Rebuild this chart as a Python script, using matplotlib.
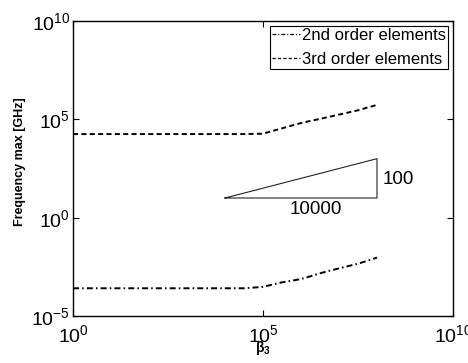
import matplotlib
matplotlib.use("Agg")
import matplotlib.pyplot as plt

plt.rcParams['font.family'] = ['Liberation Sans', 'DejaVu Sans']
plt.rcParams['mathtext.fontset'] = 'custom'
plt.rcParams['mathtext.rm'] = 'Liberation Sans'

# beta_3 sample points
beta3 = [1, 10, 100, 1e3, 1e4, 3.16e4, 1e5, 1.78e5, 3.16e5, 5.62e5,
         1e6, 1.78e6, 3.16e6, 5.62e6, 1e7, 1.78e7, 3.16e7, 5.62e7, 1e8]

# maximum frequency [GHz]
freq_2nd = [2.57e-4, 2.57e-4, 2.57e-4, 2.57e-4, 2.57e-4, 2.57e-4, 3.02e-4,
            3.98e-4, 5.13e-4, 6.17e-4, 7.59e-4, 1.05e-3, 1.48e-3, 2.00e-3,
            2.63e-3, 3.47e-3, 4.57e-3, 6.46e-3, 9.33e-3]
freq_3rd = [1.78e4, 1.78e4, 1.78e4, 1.78e4, 1.78e4, 1.78e4, 1.86e4,
            2.57e4, 3.47e4, 4.79e4, 6.46e4, 8.32e4, 1.05e5, 1.35e5,
            1.74e5, 2.24e5, 2.88e5, 3.98e5, 5.37e5]

series_labels = ['2nd order elements', '3rd order elements']

# slope triangle: run of 10000, rise of 100
tri_x = [1e4, 1e8, 1e8, 1e4]
tri_y = [10, 10, 1000, 10]
tri_run_label = '10000'
tri_rise_label = '100'

xticks = [1, 1e5, 1e10]
yticks = [1e-5, 1, 1e5, 1e10]

fig = plt.figure(figsize=(4.68, 3.63), dpi=100)
ax = fig.add_axes([73 / 468, (363 - 316) / 363, 380 / 468, 295 / 363])

lw = 1.4
l2, = ax.plot(beta3, freq_2nd, color='black', lw=lw, label=series_labels[0])
l2.set_dashes([3.1, 1.6, 0.8, 1.6])
l3, = ax.plot(beta3, freq_3rd, color='black', lw=lw, label=series_labels[1])
l3.set_dashes([2.6, 1.7])

ax.plot(tri_x, tri_y, color='#222222', lw=0.8)
ax.text(10**8.14, 10**1.95, tri_rise_label, fontsize=13.5, ha='left', va='center')
ax.text(10**6.4, 10**0.42, tri_run_label, fontsize=13.5, ha='center', va='center')

ax.set_xscale('log')
ax.set_yscale('log')
ax.set_xlim(1, 1e10)
ax.set_ylim(1e-5, 1e10)
ax.set_xticks(xticks)
ax.set_yticks(yticks)
ax.minorticks_off()
ax.tick_params(which='both', direction='in', top=True, right=True,
               length=4, width=0.8, labelsize=14, pad=2)
ax.tick_params(axis='x', pad=6)
for s in ax.spines.values():
    s.set_linewidth(1.0)

ax.set_ylabel('Frequency max [GHz]', fontsize=9, fontweight='bold')
ax.yaxis.set_label_coords(-0.139, 0.524)
ax.yaxis.label.set_va('center')
ax.set_xlabel(r'$\mathdefault{β_3}$', fontsize=10, fontweight='bold')
ax.xaxis.set_label_coords(0.5, -0.11)
ax.xaxis.label.set_va('center')

leg = ax.legend(loc='upper right', fontsize=12, frameon=True, fancybox=False,
                framealpha=1, edgecolor='black', borderaxespad=0.32,
                handlelength=1.7, handletextpad=0.1, labelspacing=0.55,
                borderpad=0.1)
leg.get_frame().set_linewidth(0.8)
for line in leg.get_lines():
    line.set_linewidth(0.9)

fig.savefig('out.png', dpi=100)
